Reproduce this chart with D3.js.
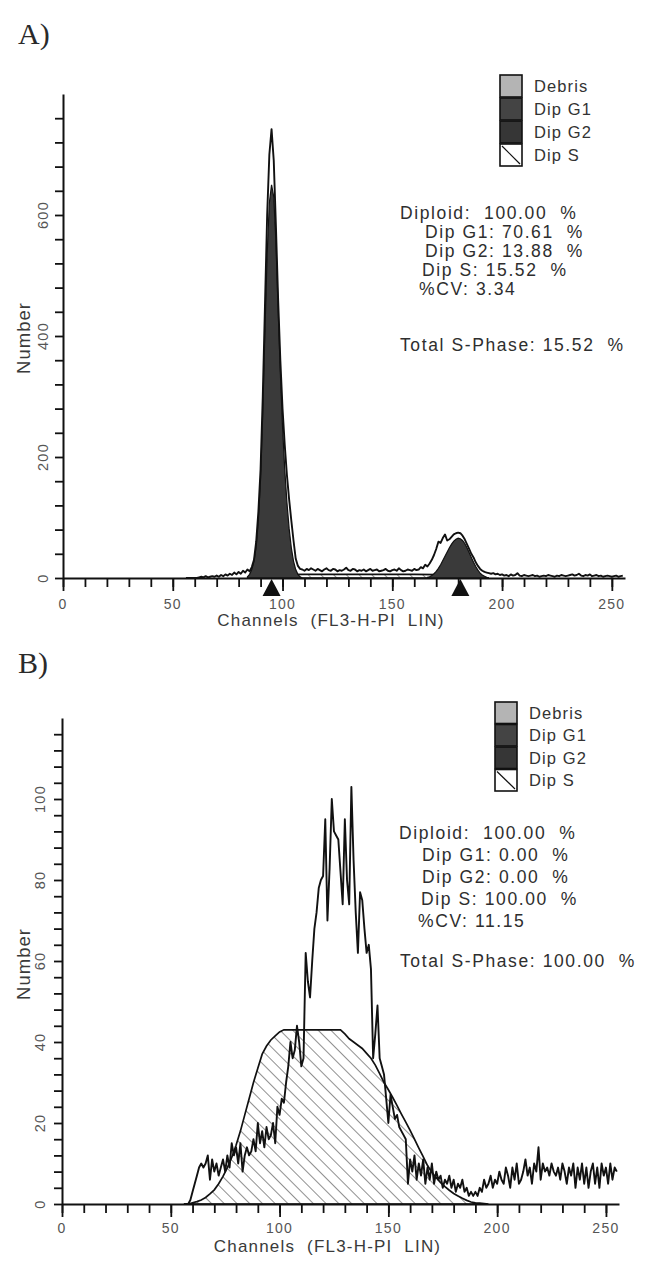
<!DOCTYPE html>
<html>
<head>
<meta charset="utf-8">
<script src="https://cdn.jsdelivr.net/npm/d3@7/dist/d3.min.js"></script>
<style>
  body { margin: 0; background: #fff; }
  text { font-family: "Liberation Sans", Arial, sans-serif; fill: #2b2b2b; white-space: pre; }
</style>
</head>
<body>
<div id="chart"></div>
<script>
  // ---- data ----
  const legendLabels = ['Debris', 'Dip G1', 'Dip G2', 'Dip S']
  const xTickLabels  = [0, 50, 100, 150, 200, 250]
  const yTickLabelsA = [0, 200, 400, 600]
  const yTickLabelsB = [0, 20, 40, 60, 80, 100]

  const statsA = ['Diploid:  100.00  %', 'Dip G1: 70.61  %', 'Dip G2: 13.88  %', 'Dip S: 15.52  %', '%CV: 3.34', 'Total S-Phase: 15.52  %']
  const statsB = ['Diploid:  100.00  %', 'Dip G1: 0.00  %', 'Dip G2: 0.00  %', 'Dip S: 100.00  %', '%CV: 11.15', 'Total S-Phase: 100.00  %']

  // panel A histogram, one count per channel from histAStart
  const histAStart = 56
  const histA = [
    0, 0, 0, 0, 0, 0,
    1, 2, 1, 3, 1, 2, 3, 2, 4, 2,
    5, 3, 6, 4, 7, 5, 9, 6, 10, 7,
    12, 9, 14, 11, 18, 30,
    60, 110, 180, 300, 450, 600, 700, 742, 690, 580,
    460, 360, 280, 220, 170, 130, 95, 62, 32, 20,
    15, 14, 12, 15, 13, 16, 14, 12, 15, 13,
    11, 14, 16, 13, 12, 15, 14, 11, 13, 12,
    14, 17, 13, 12, 15, 14, 11, 13, 12, 14,
    11, 13, 15, 12, 13, 14, 11, 12, 13, 15,
    12, 11, 13, 14, 12, 16, 13, 11, 12, 14,
    13, 12, 15, 13, 14, 18, 16, 22, 19, 24,
    30, 38,
    48, 60, 58, 66, 72, 62, 64, 68, 72, 74,
    75, 74, 70, 64, 56, 48, 40, 34, 26, 20,
    15, 12, 10, 9, 8, 7, 8, 6, 7, 5,
    6, 4, 5, 3, 6, 4, 5, 8, 4, 3,
    5, 4, 3, 4, 5, 3, 4, 2, 3, 4,
    3, 5, 4, 3, 2, 4, 3, 5, 4, 3,
    4, 5, 6, 4, 5, 7, 4, 3, 5, 4,
    6, 3, 4, 5, 3, 4, 2, 3, 4, 3,
    2, 3, 4, 2, 3, 4
  ]

  // panel A model components
  const g1AStart = 84
  const g1A = [2, 6, 14, 28, 52, 95, 165, 275, 410, 535, 620, 650, 630, 555, 445, 340, 250, 180, 125, 82, 50, 28, 14, 6, 2, 0]
  const g2AStart = 166
  const g2A = [1, 2, 4, 7, 11, 16, 22, 29, 36, 43, 50, 56, 61, 64, 66, 65, 62, 57, 50, 42, 34, 26, 19, 13, 8, 5, 3, 1, 0]
  const sACh = [88, 92, 96, 100, 110, 120, 130, 140, 150, 160, 170, 176, 182, 188, 194]
  const sA   = [0, 2.5, 4.5, 5.5, 6, 6, 6, 6, 6, 6, 5.5, 5, 3.5, 1.5, 0]
  const peakMarksA = [95, 181]

  // panel B histogram
  const histBStart = 56
  const histB = [
    0, 0, 0, 1, 3, 5, 7, 9, 10, 9,
    10, 12, 6, 11, 8, 10, 7, 9, 11, 8,
    12, 9, 15, 12, 14, 10, 15, 8, 12, 14,
    12, 13, 16, 13, 20, 15, 18, 14, 19, 16,
    17, 20, 15, 24, 22, 26, 25, 30, 34, 40,
    36, 38, 44, 40, 34, 36, 62, 55, 51, 60,
    68, 72, 78, 80, 81, 95, 70, 83, 100, 92,
    91, 90, 82, 74, 95, 80, 74, 103, 85, 72,
    62, 77, 75, 68, 62, 64, 58, 36, 42, 49,
    36, 34, 32, 26, 20, 27, 24, 21, 22, 19,
    18, 17, 16, 5, 11, 8, 12, 6, 10, 7,
    11, 5, 9, 6, 10, 5, 8, 6, 7, 4,
    6, 5, 7, 4, 6, 3, 5, 4, 6, 3,
    4, 2, 3, 2, 3, 2, 4, 3, 6, 4,
    5, 7, 4, 6, 5, 8, 6, 5, 9, 7,
    4, 9, 6, 10, 5, 6, 8, 11, 7, 9,
    5, 10, 8, 14, 6, 10, 8, 9, 7, 10,
    8, 7, 9, 6, 10, 8, 5, 9, 7, 10,
    4, 9, 6, 10, 5, 9, 4, 8, 10, 5,
    9, 4, 10, 7, 9, 5, 10, 6, 9, 8
  ]
  const sBCh = [58, 60, 62, 64, 66, 68, 70, 72, 74, 76, 78, 80, 82, 84, 86, 88, 90, 92, 94, 96, 98, 100, 102,
                128, 130, 132, 134, 136, 138, 140, 142, 144, 146, 148, 150, 152, 154, 156, 158, 160, 162, 164, 166, 168,
                170, 172, 174, 176, 178, 180, 182, 184, 186, 188, 190, 192, 194, 196]
  const sB   = [0, 0.3, 0.6, 1, 1.6, 2.5, 3.5, 5, 6.8, 9, 11.5, 14.5, 18, 22, 26, 30, 33.5, 37, 39, 40.5, 41.5, 42.5, 43,
                43, 42, 40.8, 40, 39.2, 38.4, 37.2, 36, 34.3, 32.2, 30, 28.2, 26.3, 24.3, 22.2, 20.2, 18.2, 16, 13.8, 11.7, 9.5,
                7.8, 6.5, 5.3, 4.3, 3.4, 2.6, 2, 1.4, 0.9, 0.5, 0.3, 0.2, 0.1, 0]

  // ---- layout ----
  const W = 650, H = 1272
  const legendFills = ['#b4b4b4', '#444', '#363636', 'url(#hatch)']

  const panels = [
    { tag: 'A)', tagY: 44, left: 63, right: 625, top: 94, bottom: 578, yMax: 800, yStep: 40,
      yLabels: yTickLabelsA, yLabelX: 43, numberY: 338,
      tickLabelY: 609, titleY: 626,
      hist: histA, histStart: histAStart,
      s: sACh.map((c, i) => ({ c: c, v: sA[i] })),
      peaks: [{ start: g1AStart, vals: g1A }, { start: g2AStart, vals: g2A }],
      marks: peakMarksA,
      legendX: 500, legendY: 75, legendBox: 22, legendStep: 23, legendTextX: 534,
      stats: statsA, statsX: 400, statsIndent: [0, 25, 25, 22, 19, 0], statsY: [219, 238, 257, 276, 295, 351] },
    { tag: 'B)', tagY: 673, left: 62, right: 619, top: 718, bottom: 1204, yMax: 120, yStep: 4,
      yLabels: yTickLabelsB, yLabelX: 40, numberY: 964,
      tickLabelY: 1233, titleY: 1252,
      hist: histB, histStart: histBStart,
      s: sBCh.map((c, i) => ({ c: c, v: sB[i] })),
      peaks: [], marks: [],
      legendX: 495, legendY: 702, legendBox: 22, legendStep: 22.5, legendTextX: 529,
      stats: statsB, statsX: 399, statsIndent: [0, 23, 23, 22, 19, 1], statsY: [839, 861, 883, 905, 927, 967] }
  ]

  let svg = d3.select('#chart')
              .append('svg:svg')
              .attr('width', W)
              .attr('height', H)

  let defs = svg.append('defs')
  defs.append('pattern')
      .attr('id', 'hatch')
      .attr('width', 9).attr('height', 9)
      .attr('patternUnits', 'userSpaceOnUse')
      .attr('patternTransform', 'rotate(-45)')
    .append('line')
      .attr('x1', 0).attr('y1', 0).attr('x2', 0).attr('y2', 9)
      .attr('stroke', '#222').attr('stroke-width', 1)

  function _points(start, vals) {
    return vals.map(function(v, i) { return { c: start + i, v: v } }) }

  function _drawAxes(g, p, x, y) {
    // x: minor every 10, major every 50
    g.append('g')
      .attr('transform', 'translate(0,' + p.bottom + ')')
      .call(d3.axisBottom(x).tickValues(d3.range(0, 256, 10)).tickSize(9).tickSizeOuter(0).tickFormat(''))
    g.append('g')
      .attr('transform', 'translate(0,' + p.bottom + ')')
      .call(d3.axisBottom(x).tickValues(xTickLabels).tickSize(13).tickSizeOuter(0).tickFormat(''))
      .call(function(a) { a.select('.domain').remove() })
    g.append('g')
      .attr('transform', 'translate(' + p.left + ',0)')
      .call(d3.axisLeft(y).tickValues(d3.range(0, p.yMax, p.yStep)).tickSize(8).tickSizeOuter(0).tickFormat(''))
    g.selectAll('.domain').attr('stroke', '#111').attr('stroke-width', 2)
    g.selectAll('.tick line').attr('stroke', '#111').attr('stroke-width', 1.8)

    g.selectAll('.xlab').data(xTickLabels).enter()
      .append('text')
        .attr('x', function(d) { return x(d) })
        .attr('y', p.tickLabelY)
        .attr('text-anchor', 'middle')
        .style('font-size', '14px').style('letter-spacing', '1.3px').style('fill', '#555')
        .text(function(d) { return d })

    g.selectAll('.ylab').data(p.yLabels).enter()
      .append('text')
        .attr('transform', function(d) { return 'translate(' + p.yLabelX + ',' + y(d) + ') rotate(-90)' })
        .attr('text-anchor', 'middle')
        .attr('dominant-baseline', 'central')
        .style('font-size', '14.5px').style('letter-spacing', '1.3px').style('fill', '#555')
        .text(function(d) { return d })

    g.append('text')
      .attr('x', (x(0) + x(256)) / 2 - 13)
      .attr('y', p.titleY)
      .attr('text-anchor', 'middle')
      .style('font-size', '17px').style('letter-spacing', '1.2px').style('fill', '#3a3a3a')
      .text('Channels  (FL3-H-PI  LIN)')

    g.append('text')
      .attr('transform', 'translate(23,' + p.numberY + ') rotate(-90)')
      .attr('text-anchor', 'middle')
      .attr('dominant-baseline', 'central')
      .style('font-size', '18.5px').style('letter-spacing', '1px').style('fill', '#3a3a3a')
      .text('Number') }

  function _drawLegend(g, p) {
    let rows = g.selectAll('.leg').data(legendLabels).enter()
                .append('g')
                  .attr('transform', function(d, i) { return 'translate(' + p.legendX + ',' + (p.legendY + i * p.legendStep) + ')' })
    rows.append('rect')
      .attr('width', p.legendBox).attr('height', p.legendStep - 1)
      .attr('fill', function(d, i) { return i === 3 ? '#fff' : legendFills[i] })
      .attr('stroke', '#111').attr('stroke-width', 1.6)
    rows.filter(function(d, i) { return i === 3 })
      .append('line')
        .attr('x1', 2).attr('y1', 2).attr('x2', p.legendBox - 2).attr('y2', p.legendStep - 3)
        .attr('stroke', '#111').attr('stroke-width', 1.2)
    rows.append('text')
      .attr('x', p.legendTextX - p.legendX)
      .attr('y', p.legendStep / 2 + 5.5)
      .style('font-size', '16.5px').style('letter-spacing', '1.1px').style('fill', '#333')
      .text(function(d) { return d })

    g.selectAll('.stat').data(p.stats).enter()
      .append('text')
        .attr('x', function(d, i) { return p.statsX + p.statsIndent[i] })
        .attr('y', function(d, i) { return p.statsY[i] })
        .style('font-size', '17.5px').style('letter-spacing', '1.6px').style('fill', '#2e2e2e')
        .text(function(d) { return d }) }

  function _drawPanel(p) {
    let g = svg.append('g'),
        x = d3.scaleLinear().domain([0, 256]).range([p.left, p.right]),
        y = d3.scaleLinear().domain([0, p.yMax]).range([p.bottom, p.top])

    let area = d3.area()
                 .x(function(d) { return x(d.c) })
                 .y0(y(0))
                 .y1(function(d) { return y(d.v) })
    let line = d3.line()
                 .x(function(d) { return x(d.c) })
                 .y(function(d) { return y(d.v) })

    g.append('text')
      .attr('x', 18).attr('y', p.tagY)
      .style('font-family', '"Liberation Serif", "DejaVu Serif", serif')
      .style('font-size', '30px').style('fill', '#2a2a2a')
      .text(p.tag)

    // S phase, hatched
    g.append('path')
      .datum(p.s)
      .attr('d', area)
      .attr('fill', 'url(#hatch)')
      .attr('stroke', '#111').attr('stroke-width', 1.7)

    // G1 / G2 fitted peaks
    g.selectAll('.peak').data(p.peaks).enter()
      .append('path')
        .attr('d', function(d) { return area(_points(d.start, d.vals)) })
        .attr('fill', '#3a3a3a')
        .attr('stroke', '#111').attr('stroke-width', 1.2)

    _drawAxes(g, p, x, y)

    // raw histogram
    g.append('path')
      .datum(_points(p.histStart, p.hist))
      .attr('d', line)
      .attr('fill', 'none')
      .attr('stroke', '#111').attr('stroke-width', 1.9)
      .attr('stroke-linejoin', 'round')

    // peak position markers
    g.selectAll('.mark').data(p.marks).enter()
      .append('path')
        .attr('d', function(d) {
          let cx = x(d), cy = p.bottom
          return 'M' + cx + ',' + (cy + 1) + 'L' + (cx + 9) + ',' + (cy + 18) + 'L' + (cx - 9) + ',' + (cy + 18) + 'Z' })
        .attr('fill', '#111')

    _drawLegend(g, p) }

  panels.forEach(_drawPanel)
</script>
</body>
</html>
